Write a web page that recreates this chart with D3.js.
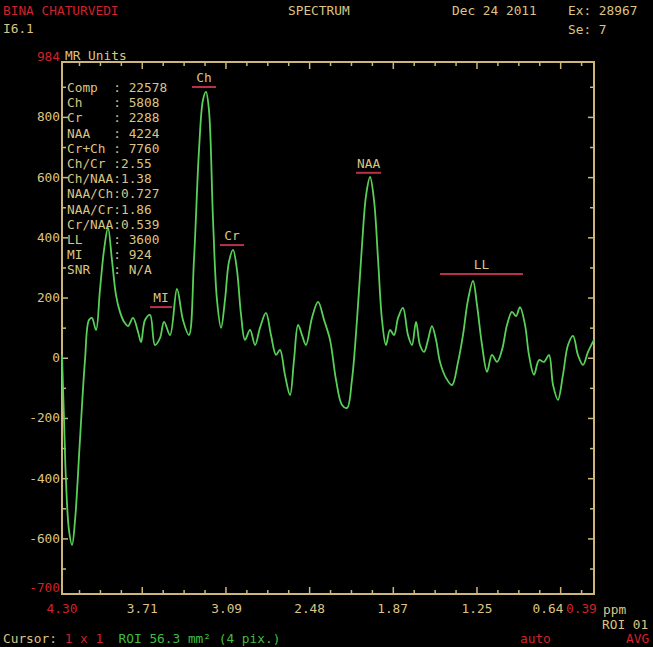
<!DOCTYPE html>
<html>
<head>
<meta charset="utf-8">
<script src="https://cdn.jsdelivr.net/npm/d3@7"></script>
<style>
  body { margin: 0; background: #000; overflow: hidden; }
  text { font-family: "DejaVu Sans Mono", "Liberation Mono", monospace; font-size: 12.8px; white-space: pre; }
</style>
</head>
<body>
<div id="chart"></div>
<script>
// settings
var svgWidth = 653;
var svgHeight = 647;
var margin = { top: 62, right: 59, bottom: 53, left: 62 };
var axisColor = "#cdb67a";
var textColor = "#dcc483";
var redColor = "#d2202c";
var lineColor = "#58d058";
var barColor = "#b8304a";

// spectrum (ppm, MR units)
var ppm = [4.300, 4.285, 4.271, 4.249, 4.226, 4.204, 4.168, 4.131, 4.102, 4.080,
  4.050, 4.021, 3.991, 3.962, 3.933, 3.903, 3.874, 3.844, 3.815, 3.778,
  3.741, 3.719, 3.690, 3.653, 3.617, 3.580, 3.550, 3.506, 3.455, 3.411,
  3.367, 3.330, 3.293, 3.264, 3.242, 3.220, 3.190, 3.161, 3.131, 3.102,
  3.073, 3.043, 3.014, 2.984, 2.955, 2.918, 2.881, 2.845, 2.801, 2.764,
  2.727, 2.698, 2.661, 2.624, 2.595, 2.565, 2.536, 2.507, 2.463, 2.418,
  2.374, 2.330, 2.286, 2.242, 2.205, 2.169, 2.132, 2.095, 2.065, 2.036,
  2.007, 1.977, 1.948, 1.919, 1.889, 1.860, 1.830, 1.794, 1.757, 1.728,
  1.698, 1.669, 1.639, 1.610, 1.581, 1.551, 1.522, 1.478, 1.434, 1.389,
  1.353, 1.316, 1.279, 1.250, 1.213, 1.176, 1.140, 1.103, 1.066, 1.029,
  0.993, 0.963, 0.934, 0.897, 0.868, 0.831, 0.794, 0.757, 0.721, 0.691,
  0.655, 0.618, 0.581, 0.544, 0.508, 0.471, 0.434, 0.390];
var signal = [10, -205, -404, -570, -620, -537, -271, -6, 127, 134,
  94, 227, 360, 433, 327, 210, 154, 121, 107, 134,
  87, 54, 127, 144, 44, 67, 121, 77, 230, 127,
  77, 327, 692, 858, 885, 825, 459, 194, 101, 194,
  320, 360, 293, 144, 61, 94, 44, 101, 151, 77,
  11, 28, -56, -122, -6, 111, 77, 44, 134, 187,
  127, 61, -72, -155, -165, -72, 127, 376, 542, 602,
  526, 327, 127, 44, 94, 77, 134, 167, 77, 44,
  121, 44, 21, 61, 107, 61, -12, -65, -89, -12,
  77, 194, 257, 177, 44, -45, 11, -12, 28, 111,
  154, 140, 170, 111, 11, -55, -6, -12, 11, -89,
  -138, -55, 44, 74, 11, -22, 21, 61];

// peak markers
var peakNames = ["MI", "Ch", "Cr", "NAA", "LL"];
var peakFrom = [3.653, 3.345, 3.139, 2.139, 1.522];
var peakTo = [3.492, 3.168, 2.962, 1.955, 0.912];
var peakLevel = [170, 901, 376, 616, 280];

// axis ticks
var xTickLabels = [3.71, 3.09, 2.48, 1.87, 1.25, 0.64];
var xMinorStep = 0.15375;
var yTickLabels = [800, 600, 400, 200, 0, -200, -400, -600];

// stats block
var statLines = ["Comp  : 22578", "Ch    : 5808", "Cr    : 2288", "NAA   : 4224",
  "Cr+Ch : 7760", "Ch/Cr :2.55", "Ch/NAA:1.38", "NAA/Ch:0.727", "NAA/Cr:1.86",
  "Cr/NAA:0.539", "LL    : 3600", "MI    : 924", "SNR   : N/A"];

var width = svgWidth - margin.left - margin.right;
var height = svgHeight - margin.top - margin.bottom;

var svg = d3.select("#chart").append("svg")
  .attr("width", svgWidth)
  .attr("height", svgHeight)
  .style("background", "#000");

var g = svg.append("g").attr("transform", `translate(${margin.left}, ${margin.top})`);

var x = d3.scaleLinear().domain([4.30, 0.39]).range([0, width]);
var y = d3.scaleLinear().domain([-783, 984]).range([height, 0]);

// frame
g.append("rect")
  .attr("width", width).attr("height", height)
  .attr("fill", "none").attr("stroke", axisColor).attr("stroke-width", 2);

// x ticks: majors every 4 minors
var xTicks = [];
for (var k = -3; k <= 24; k++) {
  var v = 3.71 - k * xMinorStep;
  if (v < 4.30 && v > 0.39) xTicks.push({ v: v, major: (k % 4 === 0) });
}
g.selectAll(".xtb").data(xTicks).enter().append("line")
  .attr("x1", d => x(d.v)).attr("x2", d => x(d.v))
  .attr("y1", height).attr("y2", d => height - (d.major ? 7 : 4))
  .attr("stroke", axisColor).attr("stroke-width", 1.5);
g.selectAll(".xtt").data(xTicks).enter().append("line")
  .attr("x1", d => x(d.v)).attr("x2", d => x(d.v))
  .attr("y1", 0).attr("y2", d => (d.major ? 7 : 4))
  .attr("stroke", axisColor).attr("stroke-width", 1.5);

// y ticks every 100
var yTicks = d3.range(-700, 901, 100);
g.selectAll(".ytl").data(yTicks).enter().append("line")
  .attr("x1", 0).attr("x2", d => (d % 200 === 0 ? 6 : 4))
  .attr("y1", d => y(d)).attr("y2", d => y(d))
  .attr("stroke", axisColor).attr("stroke-width", 1.5);
g.selectAll(".ytr").data(yTicks).enter().append("line")
  .attr("x1", width).attr("x2", d => width - (d % 200 === 0 ? 6 : 4))
  .attr("y1", d => y(d)).attr("y2", d => y(d))
  .attr("stroke", axisColor).attr("stroke-width", 1.5);

// y labels
g.selectAll(".ylab").data(yTickLabels).enter().append("text")
  .attr("x", -2).attr("y", d => y(d) + 4)
  .attr("text-anchor", "end").attr("fill", textColor)
  .text(d => d);
g.append("text").attr("x", -2).attr("y", -1).attr("text-anchor", "end")
  .attr("fill", redColor).text("984");
g.append("text").attr("x", -2).attr("y", height - 2).attr("text-anchor", "end")
  .attr("fill", redColor).text("-700");
g.append("text").attr("x", 3).attr("y", -2).attr("fill", textColor).text("MR Units");

// x labels
g.selectAll(".xlab").data(xTickLabels).enter().append("text")
  .attr("x", d => x(d) - (d === 0.64 ? 12 : 0)).attr("y", height + 19)
  .attr("text-anchor", "middle").attr("fill", textColor)
  .text(d => d.toFixed(2));
g.append("text").attr("x", 0).attr("y", height + 19).attr("text-anchor", "middle")
  .attr("fill", redColor).text("4.30");
g.append("text").attr("x", width - 28).attr("y", height + 19)
  .attr("fill", redColor).text("0.39");
g.append("text").attr("x", width + 9).attr("y", height + 20)
  .attr("fill", textColor).text("ppm");

// spectrum
var line = d3.line()
  .x(d => x(d[0])).y(d => y(d[1]))
  .curve(d3.curveCatmullRom.alpha(0.5));
g.append("path")
  .datum(d3.zip(ppm, signal))
  .attr("fill", "none").attr("stroke", lineColor).attr("stroke-width", 1.8)
  .attr("d", line);

// peak markers
var peaks = peakNames.map((n, i) => ({ name: n, from: peakFrom[i], to: peakTo[i], level: peakLevel[i] }));
g.selectAll(".pbar").data(peaks).enter().append("line")
  .attr("x1", d => x(d.from)).attr("x2", d => x(d.to))
  .attr("y1", d => y(d.level)).attr("y2", d => y(d.level))
  .attr("stroke", barColor).attr("stroke-width", 2);
g.selectAll(".ptxt").data(peaks).enter().append("text")
  .attr("x", d => (x(d.from) + x(d.to)) / 2).attr("y", d => y(d.level) - 5)
  .attr("text-anchor", "middle").attr("fill", textColor)
  .text(d => d.name);

// stats block
g.selectAll(".stat").data(statLines).enter().append("text")
  .attr("x", 5).attr("y", (d, i) => 30 + i * 15.2)
  .attr("fill", textColor)
  .text(d => d);

// header
svg.append("text").attr("x", 3).attr("y", 15).attr("fill", redColor).text("BINA CHATURVEDI");
svg.append("text").attr("x", 3).attr("y", 33).attr("fill", textColor).text("I6.1");
svg.append("text").attr("x", 288).attr("y", 15).attr("fill", textColor).text("SPECTRUM");
svg.append("text").attr("x", 452).attr("y", 15).attr("fill", textColor).text("Dec 24 2011");
svg.append("text").attr("x", 568).attr("y", 15).attr("fill", textColor).text("Ex: 28967");
svg.append("text").attr("x", 568).attr("y", 34).attr("fill", textColor).text("Se: 7");

// footer
svg.append("text").attr("x", 602).attr("y", 629).attr("fill", textColor).text("ROI 01");
var foot = svg.append("text").attr("x", 3).attr("y", 643);
foot.append("tspan").attr("fill", textColor).text("Cursor: ");
foot.append("tspan").attr("fill", redColor).text("1 x 1  ");
foot.append("tspan").attr("fill", "#3fbf3f").text("ROI 56.3 mm² (4 pix.)");
svg.append("text").attr("x", 520).attr("y", 643).attr("fill", redColor).text("auto");
svg.append("text").attr("x", 626).attr("y", 643).attr("fill", redColor).text("AVG");
</script>
</body>
</html>
